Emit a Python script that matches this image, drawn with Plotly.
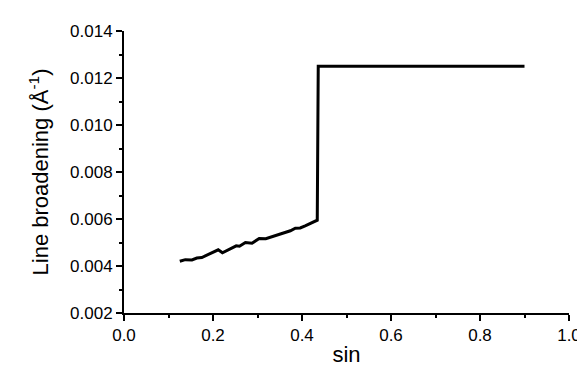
import plotly.graph_objects as go

sin_vals = [0.1254, 0.1378, 0.1527, 0.1637, 0.1748, 0.2117, 0.2212, 0.2522, 0.2595,
            0.2728, 0.2876, 0.3038, 0.3186, 0.3739, 0.3850, 0.3960, 0.4071, 0.4219,
            0.4343, 0.4365, 0.90]
broadening = [0.00420, 0.00427, 0.00426, 0.00434, 0.00436, 0.00469, 0.00456, 0.00486,
              0.00484, 0.00500, 0.00497, 0.00517, 0.00516, 0.00550, 0.00561, 0.00562,
              0.00571, 0.00584, 0.00595, 0.01250, 0.01250]

font = "Liberation Sans, Arial, sans-serif"

fig = go.Figure(go.Scatter(x=sin_vals, y=broadening, mode="lines",
                           line=dict(color="black", width=3), showlegend=False))

fig.update_layout(
    width=585, height=367,
    margin=dict(l=116, r=17, t=23, b=50),
    paper_bgcolor="white", plot_bgcolor="white",
    font=dict(family=font, color="black", size=17),
)
fig.update_xaxes(
    range=[0, 1.0], dtick=0.2, tickformat=".1f",
    showline=True, linecolor="black", linewidth=2,
    ticks="outside", ticklen=6, tickwidth=2, tickcolor="black",
    minor=dict(dtick=0.1, ticks="outside", ticklen=3, tickwidth=2, tickcolor="black"),
    showgrid=False, zeroline=False,
    tickfont=dict(size=17, family=font),
    title=dict(text="sin", font=dict(size=22, family=font), standoff=2),
)
fig.update_yaxes(
    range=[0.002, 0.014], dtick=0.002, tickformat=".3f",
    showline=True, linecolor="black", linewidth=2,
    ticks="outside", ticklen=6, tickwidth=2, tickcolor="black",
    minor=dict(dtick=0.001, ticks="outside", ticklen=3, tickwidth=2, tickcolor="black"),
    showgrid=False, zeroline=False,
    tickfont=dict(size=17, family=font),
    title=dict(text="Line broadening (Å<sup>-1</sup>)", font=dict(size=22, family=font), standoff=15),
)

fig.write_html("out.html")
